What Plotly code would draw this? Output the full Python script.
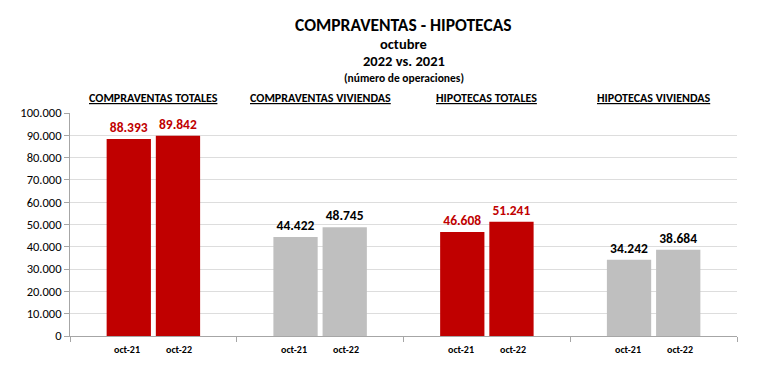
import plotly.graph_objects as go

groups = ["COMPRAVENTAS TOTALES", "COMPRAVENTAS VIVIENDAS", "HIPOTECAS TOTALES", "HIPOTECAS VIVIENDAS"]
periods = ["oct-21", "oct-22"]
vals_oct21 = [88393, 44422, 46608, 34242]
vals_oct22 = [89842, 48745, 51241, 38684]
yticks = [0, 10000, 20000, 30000, 40000, 50000, 60000, 70000, 80000, 90000, 100000]

RED = "#C00000"
GRAY = "#BFBFBF"
bar_colors = [RED, GRAY, RED, GRAY]
text_colors = [RED, "#000000", RED, "#000000"]
FONT = "Carlito, Lato, Arial"

W, H = 760, 361
T, B = 105, 33
PH = H - T - B

def py(ypx_page):
    return 1 + (T - (ypx_page - 8)) / PH

fig = go.Figure()
for name, vals in zip(periods, [vals_oct21, vals_oct22]):
    fig.add_trace(go.Bar(
        x=groups, y=vals, name=name,
        marker=dict(color=bar_colors, line=dict(width=0)),
        texttemplate="<b>%{y:,.0f}</b>", textposition="outside",
        textfont=dict(family=FONT, size=13.5, color=text_colors),
        cliponaxis=False,
    ))

annotations = []
titles = [("<b>COMPRAVENTAS - HIPOTECAS</b>", 25, 17.5), ("<b>octubre</b>", 44, 14.5),
          ("<b>2022 vs. 2021</b>", 61, 14.5), ("<b>(número de operaciones)</b>", 78.5, 11.5)]
for txt, ypx, sz in titles:
    annotations.append(dict(text=txt, x=0.5, xref="paper", y=py(ypx), yref="paper",
                            yanchor="middle", showarrow=False, font=dict(family=FONT, size=sz, color="#000")))
for g in groups:
    annotations.append(dict(text=f"<u><b>{g}</b></u>", x=g, xref="x", y=py(98), yref="paper",
                            yanchor="middle", showarrow=False, font=dict(family=FONT, size=12, color="#000")))
    for p, sh in zip(periods, [-26, 26]):
        annotations.append(dict(text=f"<b>{p}</b>", x=g, xref="x", xshift=sh, y=0, yref="paper",
                                yanchor="top", yshift=-5, showarrow=False,
                                font=dict(family=FONT, size=10, color="#000")))

fig.update_layout(
    width=W, height=H,
    margin=dict(l=59, r=31, t=T, b=B),
    plot_bgcolor="white", paper_bgcolor="white",
    separators=",.",
    barmode="group", bargap=0.41, bargroupgap=0.1,
    showlegend=False,
    annotations=annotations,
    xaxis=dict(showticklabels=False, tickson="boundaries", ticks="outside", ticklen=5,
               tickcolor="#A6A6A6", showline=True, linecolor="#A6A6A6", linewidth=1, showgrid=False),
    yaxis=dict(range=[0, 100000], tickvals=yticks, tickformat=",.0f", ticks="outside", ticklen=5,
               tickcolor="#A6A6A6", showline=True, linecolor="#A6A6A6", linewidth=1,
               showgrid=True, gridcolor="#DDDDDD", gridwidth=1, zeroline=False,
               tickfont=dict(family=FONT, size=12.5, color="#000"), tickprefix="<b>", ticksuffix="</b>"),
)
fig.write_html("out.html")
